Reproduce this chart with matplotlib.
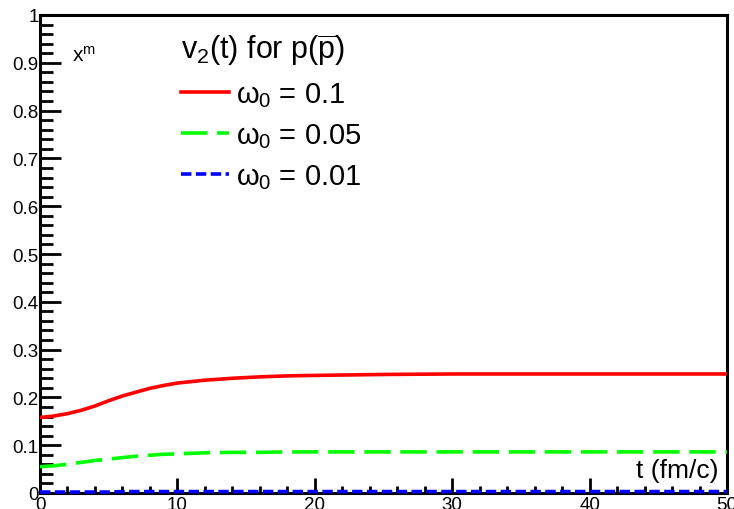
import numpy as np
import matplotlib
matplotlib.use("Agg")
import matplotlib.pyplot as plt
from matplotlib.ticker import MultipleLocator, FixedLocator

plt.rcParams["font.family"] = ["Liberation Sans", "DejaVu Sans"]
plt.rcParams["mathtext.fontset"] = "custom"
plt.rcParams["mathtext.rm"] = "Liberation Sans"
plt.rcParams["mathtext.it"] = "Liberation Sans"
plt.rcParams["lines.scale_dashes"] = False

# ── data ─────────────────────────────────────────────────────────────────────
t = [0, 1, 2, 3, 4, 5, 6, 7, 8, 9, 10, 12, 14, 16, 18, 20, 25, 30, 40, 50]
v2_w010 = [0.158, 0.161, 0.166, 0.173, 0.182, 0.193, 0.203, 0.211, 0.219, 0.225,
           0.230, 0.236, 0.240, 0.243, 0.245, 0.246, 0.248, 0.249, 0.249, 0.249]
v2_w005 = [0.055, 0.057, 0.060, 0.064, 0.068, 0.071, 0.074, 0.077, 0.079, 0.081,
           0.082, 0.084, 0.085, 0.085, 0.086, 0.086, 0.086, 0.086, 0.086, 0.086]
v2_w001 = [0.002, 0.002, 0.002, 0.002, 0.002, 0.002, 0.003, 0.003, 0.003, 0.003,
           0.003, 0.003, 0.003, 0.003, 0.003, 0.003, 0.003, 0.003, 0.003, 0.003]
labels = [r"$\omega_0$ = 0.1", r"$\omega_0$ = 0.05", r"$\omega_0$ = 0.01"]
yticks = [0, 0.1, 0.2, 0.3, 0.4, 0.5, 0.6, 0.7, 0.8, 0.9, 1]
ytick_labels = ["0", "0.1", "0.2", "0.3", "0.4", "0.5", "0.6", "0.7", "0.8", "0.9", "1"]

fig = plt.figure(figsize=(7.34, 5.10), dpi=100)
ax = fig.add_axes([40 / 734, 16 / 510, 687 / 734, 478 / 510])

ax.plot(t, v2_w010, color="#ff0000", lw=2.6, label=labels[0], zorder=3)
ax.plot(t, v2_w005, color="#00ff00", lw=2.6, dashes=(19, 7), label=labels[1], zorder=3)
ax.plot(t, v2_w001, color="#0000ff", lw=2.6, dashes=(7.5, 3.2), label=labels[2],
        zorder=4, clip_on=False)

ax.set_xlim(0, 50)
ax.set_ylim(0, 1)
ax.xaxis.set_major_locator(MultipleLocator(10))
ax.xaxis.set_minor_locator(MultipleLocator(2))
ax.yaxis.set_major_locator(FixedLocator(yticks))
ax.set_yticklabels(ytick_labels)
ax.yaxis.set_minor_locator(MultipleLocator(0.02))

for s in ax.spines.values():
    s.set_linewidth(2.2)
ax.tick_params(which="both", direction="in", top=False, right=False, width=2.0,
               labelsize=13.5, color="black")
ax.tick_params(axis="y", which="major", length=15, pad=1)
ax.tick_params(axis="y", which="minor", length=9)
ax.tick_params(axis="x", which="major", length=11, pad=2)
ax.tick_params(axis="x", which="minor", length=5)

ax.text(0.988, 0.048, "t (fm/c)", transform=ax.transAxes, ha="right", va="center",
        fontsize=19)
ax.text(0.046, 0.895, r"x$^{m}$", transform=ax.transAxes, ha="left", va="bottom",
        fontsize=15)

leg = ax.legend(loc="upper left", bbox_to_anchor=(0.205, 0.966), frameon=False,
                fontsize=21, title=r"v$_2$(t) for p($\overline{\mathrm{p}}$)",
                title_fontsize=22, handlelength=1.65, handletextpad=0.25,
                labelspacing=0.42, borderpad=0, borderaxespad=0, alignment="left")

fig.savefig("out.png", dpi=100)
